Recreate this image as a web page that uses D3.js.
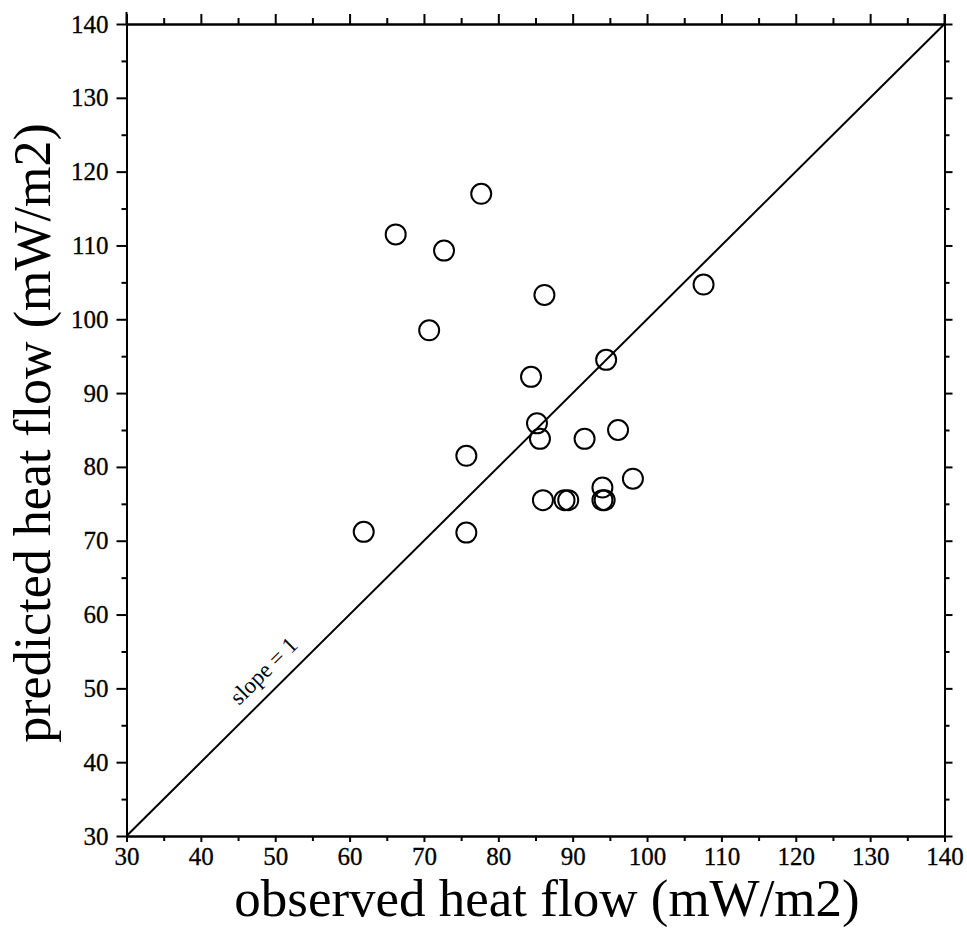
<!DOCTYPE html>
<html><head><meta charset="utf-8">
<script src="https://cdn.jsdelivr.net/npm/d3@7"></script>
<style>body{margin:0;background:#fff}svg{display:block}</style>
</head><body>
<script>
const observed  = [61.9, 66.2, 72.7, 77.7, 70.7, 86.2, 107.6, 94.5, 84.4, 85.2, 85.6, 75.7, 91.6, 96.1, 98.1, 94.0, 94.0, 94.3, 86.0, 88.9, 89.4, 75.7];
const predicted = [71.2, 111.5, 109.3, 117.0, 98.5, 103.3, 104.7, 94.5, 92.2, 85.9, 83.8, 81.5, 83.8, 85.0, 78.4, 77.2, 75.5, 75.5, 75.5, 75.5, 75.5, 71.1];
const majorTicks = [30, 40, 50, 60, 70, 80, 90, 100, 110, 120, 130, 140];
const minorTicks = [35, 45, 55, 65, 75, 85, 95, 105, 115, 125, 135];
const xTitle = "observed heat flow (mW/m2)";
const yTitle = "predicted heat flow (mW/m2)";
const lineLabel = "slope = 1";

const W = 967, H = 928;
const svg = d3.select("body").append("svg").attr("width", W).attr("height", H);
const x = d3.scaleLinear().domain([30, 140]).range([126.5, 944.5]);
const y = d3.scaleLinear().domain([30, 140]).range([836, 24]);
const font = "'Liberation Serif', 'Times New Roman', serif";

function styleAxis(g){
  g.selectAll("path,line").attr("stroke","#000").attr("stroke-width",2);
  g.selectAll("text").attr("font-family",font).attr("font-size",25).attr("fill","#000")
   .attr("stroke","#000").attr("stroke-width",0.3);
}

svg.append("g").attr("transform",`translate(0,${y(30)})`)
  .call(d3.axisBottom(x).tickValues(majorTicks).tickSize(6).tickPadding(5).tickSizeOuter(0).tickFormat(d3.format("d")))
  .call(styleAxis);
svg.append("g").attr("transform",`translate(0,${y(30)})`)
  .call(d3.axisBottom(x).tickValues(minorTicks).tickSize(5).tickFormat("").tickSizeOuter(0))
  .call(styleAxis);

svg.append("g").attr("transform",`translate(${x(30)},0)`)
  .call(d3.axisLeft(y).tickValues(majorTicks).tickSize(10).tickPadding(8).tickSizeOuter(0).tickFormat(d3.format("d")))
  .call(styleAxis);
svg.append("g").attr("transform",`translate(${x(30)},0)`)
  .call(d3.axisLeft(y).tickValues(minorTicks).tickSize(5).tickFormat("").tickSizeOuter(0))
  .call(styleAxis);

svg.append("g").attr("transform",`translate(0,${y(140)})`)
  .call(d3.axisTop(x).tickValues(majorTicks).tickSize(10).tickFormat("").tickSizeOuter(0))
  .call(styleAxis);
svg.append("g").attr("transform",`translate(0,${y(140)})`)
  .call(d3.axisTop(x).tickValues(minorTicks).tickSize(6).tickFormat("").tickSizeOuter(0))
  .call(styleAxis);

svg.append("g").attr("transform",`translate(${x(140)},0)`)
  .call(d3.axisRight(y).tickValues(majorTicks).tickSize(8).tickFormat("").tickSizeOuter(0))
  .call(styleAxis);
svg.append("g").attr("transform",`translate(${x(140)},0)`)
  .call(d3.axisRight(y).tickValues(minorTicks).tickSize(5).tickFormat("").tickSizeOuter(0))
  .call(styleAxis);

svg.append("line").attr("x1",x(140)).attr("x2",x(140)).attr("y1",y(140)-10).attr("y2",y(140)).attr("stroke","#000").attr("stroke-width",2);
svg.append("line").attr("x1",x(30)).attr("x2",x(30)).attr("y1",y(140)-12).attr("y2",y(140)).attr("stroke","#000").attr("stroke-width",2);

// slope = 1 line
svg.append("line").attr("x1",x(30)).attr("y1",y(30)).attr("x2",x(140)).attr("y2",y(140))
  .attr("stroke","#000").attr("stroke-width",2);

const ang = Math.atan2(y(140)-y(30), x(140)-x(30))*180/Math.PI;
svg.append("text").attr("transform",`translate(${x(50.4)},${y(50.4)}) rotate(${ang})`)
  .attr("y",-13).attr("text-anchor","middle").attr("font-family",font).attr("font-size",23).text(lineLabel);

// points
svg.append("g").selectAll("circle").data(observed.map((o,i)=>[o,predicted[i]])).join("circle")
  .attr("cx",d=>x(d[0])).attr("cy",d=>y(d[1])).attr("r",10)
  .attr("fill","none").attr("stroke","#000").attr("stroke-width",2);

// titles
svg.append("text").attr("x",547).attr("y",916).attr("text-anchor","middle")
  .attr("font-family",font).attr("font-size",53).text(xTitle);
svg.append("text").attr("transform",`translate(50,433) rotate(-90)`).attr("text-anchor","middle")
  .attr("font-family",font).attr("font-size",52).text(yTitle);
</script>
</body></html>
